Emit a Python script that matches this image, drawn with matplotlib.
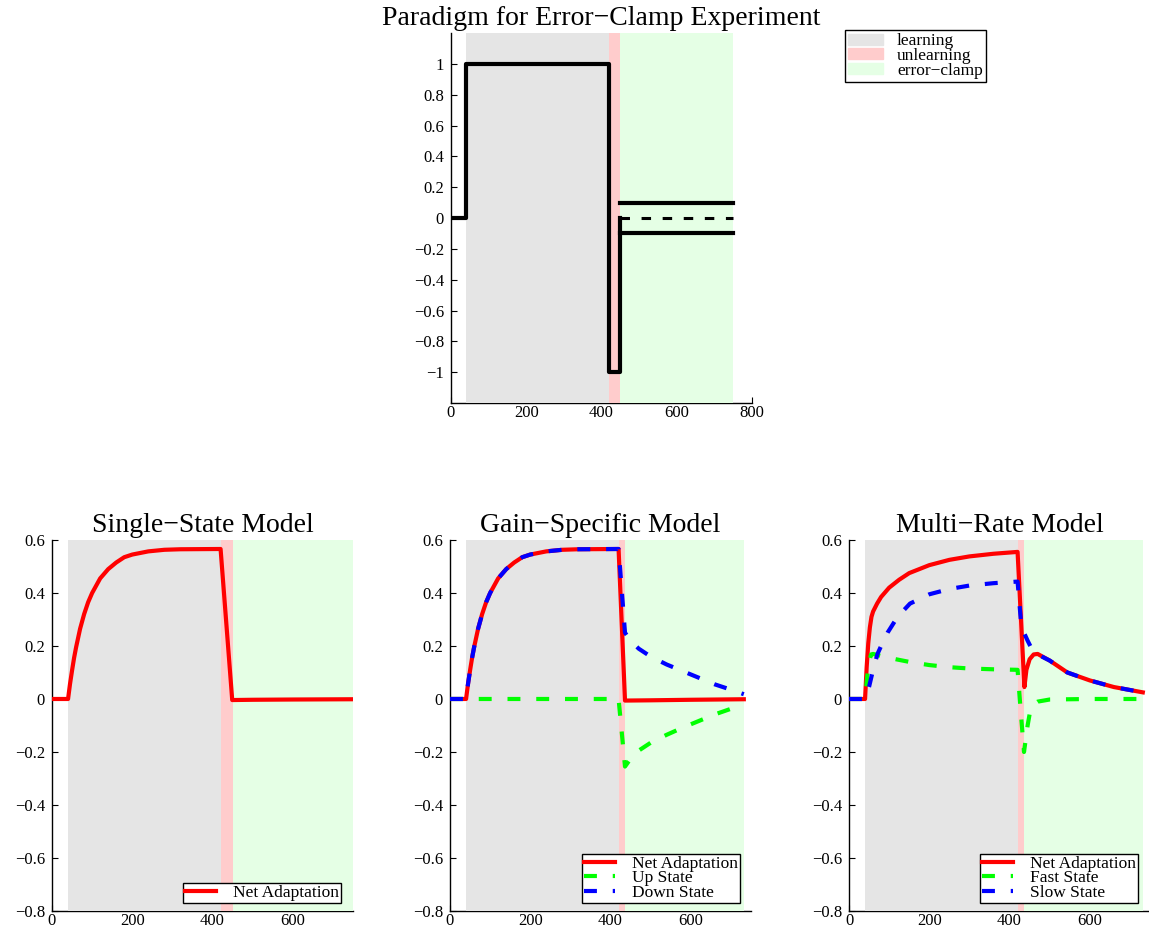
import matplotlib
matplotlib.use("Agg")
import matplotlib.pyplot as plt
from matplotlib.patches import Patch

plt.rcParams["font.family"] = ["Liberation Serif", "DejaVu Serif"]

learn_color = "#e5e5e5"
unlearn_color = "#ffcccc"
clamp_color = "#e5ffe5"

# --- paradigm (top panel) ---
paradigm_trials = [0, 40, 40, 420, 420, 450, 450]
paradigm_force = [0, 0, 1, 1, -1, -1, 0]
clamp_trials = [450, 750]
clamp_upper = [0.1, 0.1]
clamp_zero = [0, 0]
clamp_lower = [-0.1, -0.1]
paradigm_phases = [40, 420, 450, 750]
paradigm_yticks = [-1, -0.8, -0.6, -0.4, -0.2, 0, 0.2, 0.4, 0.6, 0.8, 1]
paradigm_ylabels = ["−1", "−0.8", "−0.6", "−0.4", "−0.2", "0", "0.2", "0.4", "0.6", "0.8", "1"]
paradigm_xticks = [0, 200, 400, 600, 800]

# --- single-state model ---
ss_phases = [40, 420, 450, 750]
ss_trials = [0, 40, 45, 50, 55, 60, 70, 80, 90, 100, 120, 140, 160, 180, 200,
             240, 280, 320, 420, 449, 500, 600, 750]
ss_net = [0, 0, 0.058, 0.108, 0.155, 0.195, 0.265, 0.32, 0.365, 0.40, 0.455,
          0.49, 0.515, 0.535, 0.545, 0.557, 0.563, 0.565, 0.566, -0.004,
          -0.003, -0.002, -0.001]

# --- gain-specific model ---
gs_phases = [40, 420, 436, 732]
gs_trials = [0, 40, 45, 50, 55, 60, 70, 80, 90, 100, 120, 140, 160, 180, 200,
             240, 280, 320, 420, 436, 500, 600, 732]
gs_net = [0, 0, 0.058, 0.108, 0.155, 0.195, 0.265, 0.32, 0.365, 0.40, 0.455,
          0.49, 0.515, 0.535, 0.545, 0.557, 0.563, 0.565, 0.566, -0.006,
          -0.005, -0.003, -0.001]
gs_up_trials = [0, 420, 436, 450, 470, 500, 540, 580, 620, 660, 700, 732]
gs_up = [0, 0, -0.255, -0.225, -0.195, -0.165, -0.135, -0.108, -0.083,
         -0.058, -0.037, -0.019]
gs_down_trials = [0, 40, 45, 50, 55, 60, 70, 80, 90, 100, 120, 140, 160, 180,
                  200, 240, 280, 320, 420, 436, 450, 470, 500, 540, 580, 620,
                  660, 700, 732]
gs_down = [0, 0, 0.058, 0.108, 0.155, 0.195, 0.265, 0.32, 0.365, 0.40, 0.455,
           0.49, 0.515, 0.535, 0.545, 0.557, 0.563, 0.565, 0.566, 0.25, 0.22,
           0.19, 0.16, 0.13, 0.105, 0.08, 0.055, 0.035, 0.018]

# --- multi-rate model ---
mr_phases = [40, 420, 436, 732]
mr_trials = [0, 40, 44, 48, 52, 56, 60, 70, 80, 100, 125, 150, 200, 250, 300,
             360, 420, 437, 442, 450, 460, 470, 500, 544, 600, 660, 732]
mr_net = [0, 0, 0.12, 0.21, 0.27, 0.31, 0.33, 0.36, 0.385, 0.42, 0.45, 0.475,
          0.505, 0.525, 0.538, 0.548, 0.555, 0.045, 0.11, 0.15, 0.168, 0.17,
          0.145, 0.10, 0.07, 0.045, 0.025]
mr_fast_trials = [0, 40, 45, 50, 55, 60, 80, 100, 150, 200, 250, 300, 360, 420,
                  428, 436, 445, 452, 460, 470, 500, 600, 732]
mr_fast = [0, 0, 0.08, 0.14, 0.168, 0.17, 0.162, 0.155, 0.14, 0.128, 0.12,
           0.115, 0.112, 0.11, -0.05, -0.2, -0.1, -0.04, -0.02, -0.01, -0.002,
           0, 0]
mr_slow_trials = [0, 40, 50, 60, 71, 80, 96, 121, 152, 200, 250, 300, 360, 420,
                  428, 436, 445, 455, 465, 470, 500, 544, 600, 660, 732]
mr_slow = [0, 0, 0.046, 0.11, 0.17, 0.2, 0.25, 0.31, 0.36, 0.395, 0.415, 0.428,
           0.437, 0.443, 0.30, 0.25, 0.22, 0.19, 0.172, 0.168, 0.145, 0.10,
           0.07, 0.045, 0.025]

model_yticks = [-0.8, -0.6, -0.4, -0.2, 0, 0.2, 0.4, 0.6]
model_ylabels = ["−0.8", "−0.6", "−0.4", "−0.2", "0", "0.2", "0.4", "0.6"]
model_xticks = [0, 200, 400, 600]

dash = (3.1, 3.8)


def shade(ax, phases):
    ax.axvspan(phases[0], phases[1], color=learn_color, lw=0)
    ax.axvspan(phases[1], phases[2], color=unlearn_color, lw=0)
    ax.axvspan(phases[2], phases[3], color=clamp_color, lw=0)


def style(ax):
    ax.set_axisbelow(True)
    for side in ["top", "right"]:
        ax.spines[side].set_visible(False)
    for side in ["left", "bottom"]:
        ax.spines[side].set_zorder(0.5)
        ax.spines[side].set_linewidth(1.0)
    ax.tick_params(direction="in", length=4, width=0.8, labelsize=12)
    ax.tick_params(axis="y", pad=5)
    ax.tick_params(axis="x", pad=1.5)


fig = plt.figure(figsize=(11.49, 9.31), dpi=100)

# top panel
ax = fig.add_axes([0.3925, 0.5671, 0.262, 0.3974])
shade(ax, paradigm_phases)
ax.plot(paradigm_trials, paradigm_force, color="k", lw=3)
ax.plot(clamp_trials, clamp_upper, color="k", lw=3)
ax.plot(clamp_trials, clamp_lower, color="k", lw=3)
ax.plot(clamp_trials, clamp_zero, color="k", lw=2.2, dashes=dash)
ax.set_xlim(0, 800)
ax.set_ylim(-1.2, 1.2)
ax.set_yticks(paradigm_yticks)
ax.set_yticklabels(paradigm_ylabels)
ax.set_xticks(paradigm_xticks)
ax.set_xticklabels([str(t) for t in paradigm_xticks])
ax.set_title("Paradigm for Error−Clamp Experiment", fontsize=20, pad=6)
style(ax)
handles = [Patch(color=learn_color, label="learning"),
           Patch(color=unlearn_color, label="unlearning"),
           Patch(color=clamp_color, label="error−clamp")]
leg = fig.legend(handles=handles, loc="upper left",
                 bbox_to_anchor=(845 / 1149, 1 - 30 / 931), fontsize=12.5,
                 fancybox=False, framealpha=1, edgecolor="k",
                 handlelength=2.0, handleheight=0.6, labelspacing=-0.08,
                 borderpad=0.2, handletextpad=0.8, borderaxespad=0)
leg.get_frame().set_linewidth(1.0)

# bottom panels
lefts = [52 / 1149, 450 / 1149, 849 / 1149]
titles = ["Single−State Model", "Gain−Specific Model", "Multi−Rate Model"]
panels = [
    (ss_phases, [(ss_trials, ss_net, "#ff0000", None, "Net Adaptation")]),
    (gs_phases, [(gs_trials, gs_net, "#ff0000", None, "Net Adaptation"),
                 (gs_up_trials, gs_up, "#00ff00", dash, "Up State"),
                 (gs_down_trials, gs_down, "#0000ff", dash, "Down State")]),
    (mr_phases, [(mr_trials, mr_net, "#ff0000", None, "Net Adaptation"),
                 (mr_fast_trials, mr_fast, "#00ff00", dash, "Fast State"),
                 (mr_slow_trials, mr_slow, "#0000ff", dash, "Slow State")]),
]
legend_corners = [(341, 903), (740, 903), (1138, 903)]

for left, title, (phases, series), corner in zip(lefts, titles, panels,
                                                  legend_corners):
    ax = fig.add_axes([left, 0.0215, 0.262, 0.3985])
    shade(ax, phases)
    for xs, ys, col, dsh, lab in series:
        if dsh is None:
            ax.plot(xs, ys, color=col, lw=3, label=lab)
        else:
            ax.plot(xs, ys, color=col, lw=3, dashes=dsh, label=lab)
    ax.set_xlim(0, 750)
    ax.set_ylim(-0.8, 0.6)
    ax.set_yticks(model_yticks)
    ax.set_yticklabels(model_ylabels)
    ax.set_xticks(model_xticks)
    ax.set_xticklabels([str(t) for t in model_xticks])
    ax.set_title(title, fontsize=20, pad=6)
    style(ax)
    leg = ax.legend(loc="lower right",
                    bbox_to_anchor=(corner[0] / 1149, 1 - corner[1] / 931),
                    bbox_transform=fig.transFigure, fontsize=12.5,
                    fancybox=False, framealpha=1, edgecolor="k",
                    handlelength=1.8, labelspacing=-0.08, borderpad=0.1,
                    handletextpad=1.0, borderaxespad=0)
    leg.get_frame().set_linewidth(1.0)

fig.savefig("out.png", dpi=100)
